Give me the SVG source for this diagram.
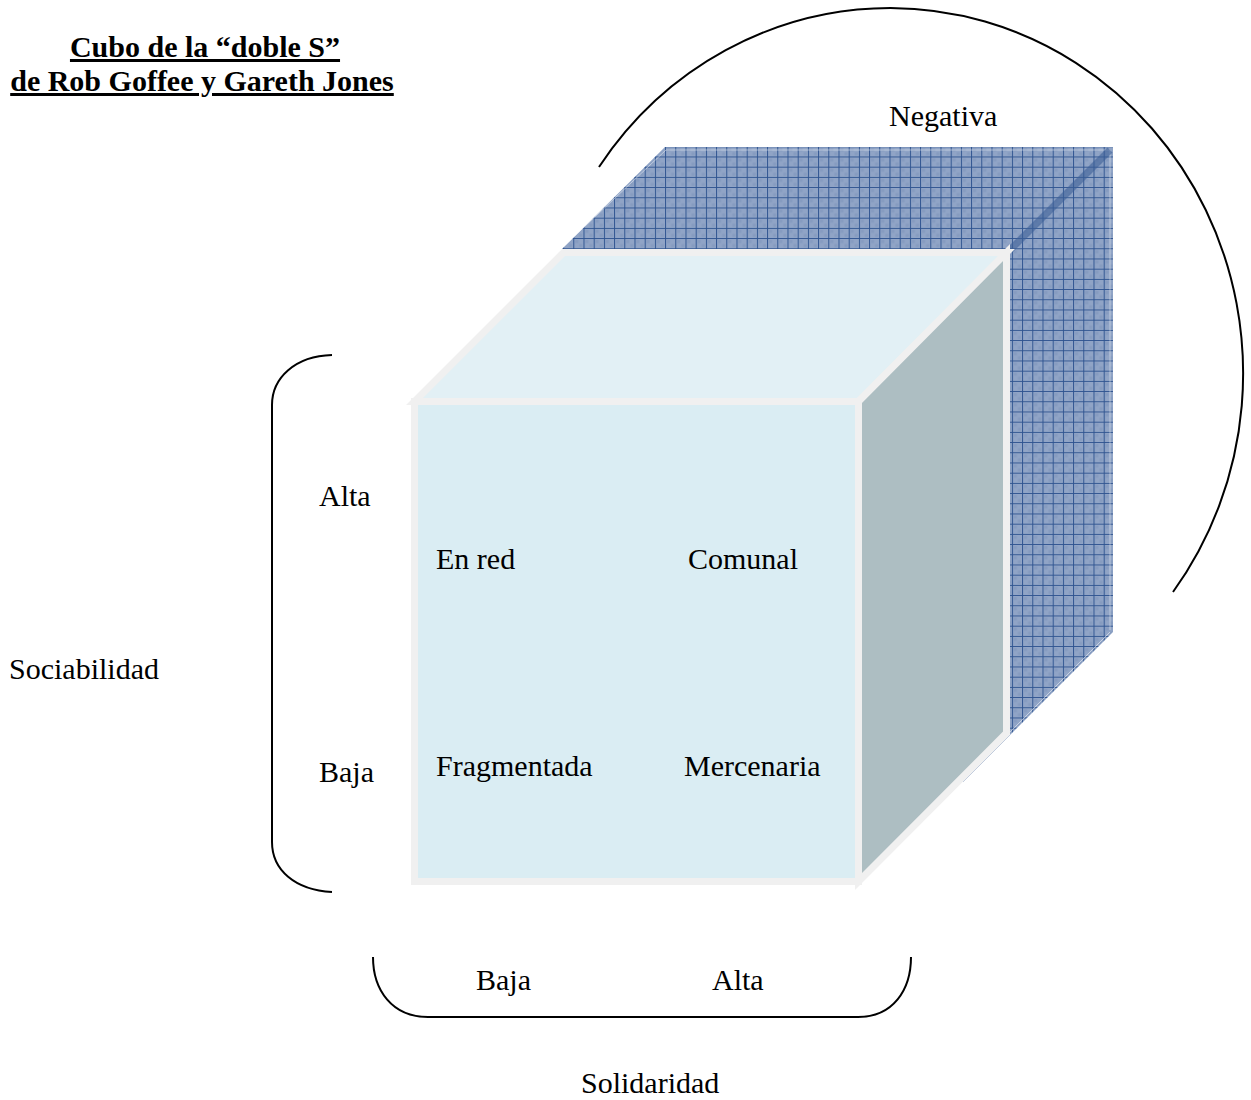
<svg xmlns="http://www.w3.org/2000/svg" width="1251" height="1100" viewBox="0 0 1251 1100">
  <style>
    .t { font-family: "Liberation Serif", "Times New Roman", serif; font-size: 30px; fill: #000; }
    .title { font-weight: bold; text-decoration: underline; }
    .face { stroke: #f0f0f0; stroke-width: 7; stroke-linejoin: miter; }
    .brace { fill: none; stroke: #000; stroke-width: 2; }
  </style>
  <defs>
    <pattern id="grid" x="573.3" y="166.7" width="10.2" height="10.2" patternUnits="userSpaceOnUse">
      <rect width="10.2" height="10.2" fill="#90a4c6"/>
      <rect x="2" y="2" width="3" height="3" fill="#7f96bd" opacity="0.6"/>
      <rect x="6" y="6" width="3" height="3" fill="#7f96bd" opacity="0.6"/>
      <path d="M0,0.5H10.2M0.5,0V10.2" stroke="#2f5490" stroke-width="1"/>
    </pattern>
  </defs>
  <rect width="1251" height="1100" fill="#fff"/>

  <g id="title">
    <text class="t title" x="205" y="57" text-anchor="middle">Cubo de la “doble S”</text>
    <text class="t title" x="202" y="91" text-anchor="middle">de Rob Goffee y Gareth Jones</text>
  </g>

  <g id="back-cube">
    <polygon points="665,147 1113,147 1113,632 1010,735 1010,249 562,249" fill="url(#grid)"/>
    <polyline points="564,246 666,150 1110,150 1110,630" fill="none" stroke="#ffffff" stroke-width="1" opacity="0.45"/>
    <line x1="1110" y1="632" x2="1010" y2="732" stroke="#ffffff" stroke-width="1" opacity="0.5"/>
    <line x1="1010" y1="250" x2="1110" y2="150" stroke="#3d6098" stroke-width="7" opacity="0.6"/>
    <line x1="1010" y1="735" x2="963" y2="782" stroke="#8fa3c4" stroke-width="1" opacity="0.6"/>
  </g>

  <g id="front-cube">
    <polygon class="face" points="414.5,401.5 563.5,252.5 1006.5,252.5 858.5,401.5" fill="#e2f0f5"/>
    <polygon class="face" points="858.5,401.5 1006.5,252.5 1006.5,733 858.5,881.5" fill="#adbec2"/>
    <rect class="face" x="414.5" y="401.5" width="444" height="480" fill="#daedf3"/>
  </g>

  <g id="connectors">
    <path id="arc-negativa" class="brace" d="M599,167 A353.5,365.5 0 0 1 890.5,8 A353.5,365.5 0 0 1 1173,592" stroke-width="1.6"/>
    <path id="brace-sociabilidad" class="brace" d="M332,355 C295,356 272,378 272,405 L272,842 C272,870 295,890 332,892"/>
    <path id="brace-solidaridad" class="brace" d="M373,957 C373,990 392,1017 428,1017 L858,1017 C893,1017 911,990 911,957"/>
  </g>

  <g id="labels">
    <text class="t" x="889" y="126">Negativa</text>
    <text class="t" x="319" y="506">Alta</text>
    <text class="t" x="319" y="782">Baja</text>
    <text class="t" x="9" y="679">Sociabilidad</text>
    <text class="t" x="476" y="990">Baja</text>
    <text class="t" x="712" y="990">Alta</text>
    <text class="t" x="581" y="1093">Solidaridad</text>
  </g>

  <g id="cells">
    <text id="en-red" class="t" x="436" y="569">En red</text>
    <text id="comunal" class="t" x="688" y="569">Comunal</text>
    <text id="fragmentada" class="t" x="436" y="776">Fragmentada</text>
    <text id="mercenaria" class="t" x="684" y="776">Mercenaria</text>
  </g>
</svg>
